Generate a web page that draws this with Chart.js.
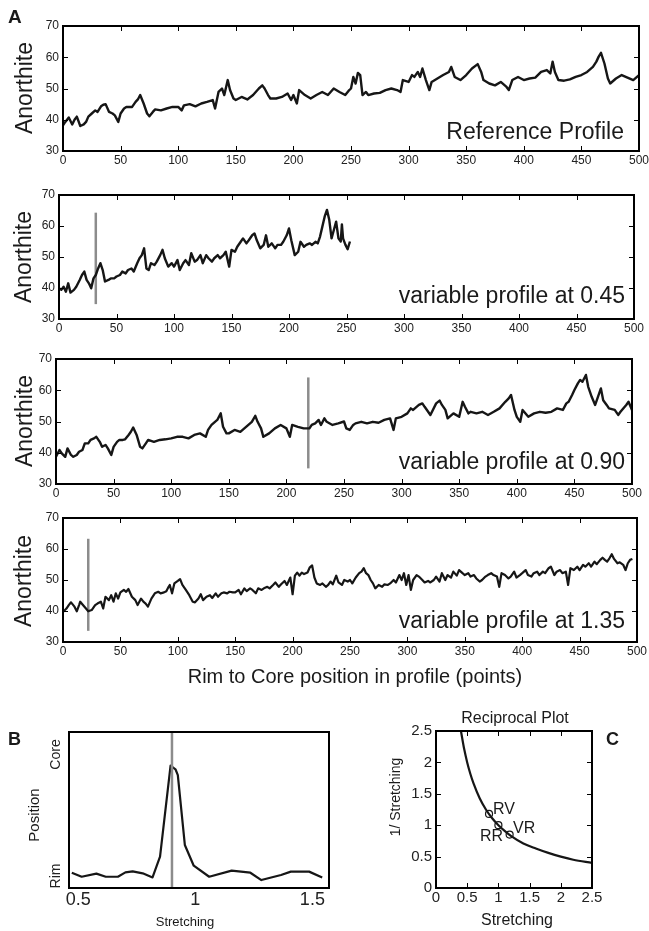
<!DOCTYPE html>
<html>
<head>
<meta charset="utf-8">
<script src="https://cdn.jsdelivr.net/npm/chart.js@4.4.1/dist/chart.umd.min.js"></script>
<style>
body { margin: 0; background: #fff; }
#fig { position: relative; width: 649px; height: 931px; overflow: hidden;
       font-family: "Liberation Sans", Arial, sans-serif; color: #1a1a1a; }
#fig canvas { position: absolute; }
.t { position: absolute; white-space: nowrap; line-height: 1; }
.c { transform: translateX(-50%); }
.rot { transform: translate(-50%, -50%) rotate(-90deg); }
.b { font-weight: bold; }
</style>
</head>
<body>
<div id="fig">
<canvas id="a1"></canvas>
<canvas id="a2"></canvas>
<canvas id="a3"></canvas>
<canvas id="a4"></canvas>
<canvas id="pb"></canvas>
<canvas id="pc"></canvas>

<div class="t b" style="left:8px;top:7px;font-size:19px">A</div>
<div class="t b" style="left:8px;top:730px;font-size:18px">B</div>
<div class="t b" style="left:606px;top:730px;font-size:18px">C</div>

<div class="t rot" style="left:24px;top:88px;font-size:23px">Anorthite</div>
<div class="t rot" style="left:23px;top:257px;font-size:23px">Anorthite</div>
<div class="t rot" style="left:24px;top:421px;font-size:23px">Anorthite</div>
<div class="t rot" style="left:23px;top:581px;font-size:23px">Anorthite</div>

<div class="t" style="right:25px;top:120px;font-size:23px">Reference Profile</div>
<div class="t" style="right:24px;top:284px;font-size:23px">variable profile at 0.45</div>
<div class="t" style="right:24px;top:450px;font-size:23px">variable profile at 0.90</div>
<div class="t" style="right:24px;top:609px;font-size:23px">variable profile at 1.35</div>
<div class="t c" style="left:355px;top:666px;font-size:20px">Rim to Core position in profile (points)</div>

<div class="t rot" style="left:33px;top:815px;font-size:15px">Position</div>
<div class="t c" style="left:185px;top:915px;font-size:13px">Stretching</div>

<div class="t c" style="left:515px;top:710px;font-size:16px">Reciprocal Plot</div>
<div class="t rot" style="left:395px;top:797px;font-size:14px">1/ Stretching</div>
<div class="t c" style="left:517px;top:912px;font-size:16px">Stretching</div>
<div class="t" style="left:493px;top:801px;font-size:16px">RV</div>
<div class="t" style="left:480px;top:828px;font-size:16px">RR</div>
<div class="t" style="left:513px;top:820px;font-size:16px">VR</div>
</div>

<script>
// ---- profile ticks
const aXTicks = [0, 50, 100, 150, 200, 250, 300, 350, 400, 450, 500];
const aYTicks = [30, 40, 50, 60, 70];

// reference profile
const refPos = [0,2,5,8,10,12,15,18,20,22,25,28,30,33,35,37,40,43,45,48,50,53,55,58,60,63,65,67,70,73,75,78,80,85,90,95,100,103,105,110,115,120,125,130,132,135,138,140,143,145,148,150,155,160,165,170,173,175,178,180,185,190,195,198,200,203,205,210,215,220,225,230,235,240,245,248,250,252,254,256,258,260,263,265,270,275,280,285,290,293,295,300,303,305,308,310,312,315,318,320,325,330,335,337,340,345,350,355,360,363,365,370,375,380,385,387,390,395,400,405,410,415,420,423,425,427,430,435,440,445,450,455,460,463,465,467,470,473,475,480,485,490,495,500];
const refAn = [38.2,39.3,40.7,38.5,40,41,38,38.5,39.3,41,42,43,42.5,44.3,44.8,45,42.5,42,41.4,39.3,42,43.6,44.1,44.1,44.1,45.7,46.5,47.9,45.2,42,41.1,42.5,43.3,43,43.6,44.1,44.1,43,44.6,45,44.3,45.2,45.7,46.3,43.6,48.9,50,47.9,52.7,49.5,46.8,46.3,47.3,46.5,47.9,50,51,50,47.9,46.8,46.8,47.3,48.4,46.3,47.9,45.2,49.5,47.9,46.8,47.9,48.9,47.9,50,48.9,47.9,49.3,50,53.7,51.6,55,54.3,47.9,48.9,47.9,48.4,48.6,49.5,50,49.5,48.9,52.7,52.1,54.3,53.7,55.3,53.7,56.4,52.7,49.5,52.1,53.2,54.3,55.3,56.9,53.7,52.7,54.3,56.4,57.8,55.3,52.7,51.6,51,52.1,50.5,49.5,52.7,53.7,52.7,53.2,53.5,55.3,55.9,54.8,58.6,55.3,52.7,52.5,52.9,53.7,54.3,55.3,56.9,58.6,60.2,61.4,58,53.2,51.6,53.2,54.3,53.5,52.7,54.3];

// variable profile at 0.45
const v45Pos = [0,2,4,6,8,10,13,15,18,20,22,24,26,28,30,32,34,36,38,40,43,45,48,50,53,55,58,60,63,65,68,70,72,74,76,78,80,83,85,88,90,92,95,98,100,103,105,108,110,113,115,118,120,123,125,128,130,133,135,138,140,143,145,148,150,153,155,158,160,163,165,168,170,172,175,178,180,182,185,188,190,193,195,198,200,202,205,208,210,213,215,218,220,223,225,227,229,231,233,235,237,239,241,243,245,246,247,249,251,253];
const v45An = [39.9,39.4,40.4,38.8,41.5,38.5,39.4,40.4,42.6,44.2,45.3,42.6,41.5,39.9,43.1,44.2,46.3,48,45.8,42.1,42.6,43.1,43.1,43.7,44.2,45.3,44.7,45.8,46.3,45.3,48,49.6,50.6,52.8,46.3,45.8,48,47.4,48.5,50.6,52.3,49.6,46.9,48,46.9,49,45.8,48,49,47.4,51.2,48.5,49,50.6,48,50.6,49.6,48.5,49.6,50.6,49.6,50.6,51.7,46.9,52.3,51.7,53.3,54.9,56,54.4,55.4,57,57.6,55.4,52.8,53.9,57,53.3,54.4,52.8,53.9,53.9,54.9,57,59.2,55.4,50.6,51.7,54.9,53.3,53.9,54.4,53.9,54.9,54.4,56.6,59.8,63,65.2,62,56,58.7,61.4,56,55,60.5,56,54,52.5,55];

// variable profile at 0.90
const v90Pos = [0,3,5,8,10,13,15,18,20,23,25,28,30,33,35,38,40,43,45,48,50,53,55,58,60,63,65,67,70,73,75,78,80,85,90,95,100,105,110,115,120,125,130,132,135,138,140,143,145,148,150,155,160,165,170,173,175,178,180,185,190,195,200,203,205,210,215,218,220,222,225,228,230,233,235,240,245,250,252,255,258,260,265,270,275,280,285,290,293,295,300,305,308,310,315,318,320,325,330,333,335,338,340,345,350,353,355,358,360,365,370,375,380,385,390,393,395,398,400,403,405,410,415,420,425,430,435,440,443,445,448,450,453,455,457,460,462,465,468,470,473,475,478,480,485,488,490,495,497,500];
const v90An = [38.7,40.9,39.8,38.7,41.4,39.3,38.7,39.3,40.3,40.9,43,43,44.1,44.6,45.1,43.5,41.9,42.5,41.4,39.3,41.9,43.5,44.1,44.1,44.3,45.7,46.7,48.1,45.7,41.9,41.4,43,44.1,43.5,44.1,44.3,44.6,45.1,45.1,44.6,45.7,46.2,45.1,47.3,48.9,49.9,50.5,52.6,48.3,46.2,46.2,47.3,46.7,48.3,49.9,51.8,49.9,47.8,45.1,46.2,47.8,48.9,47.8,45.1,48.9,48.3,47.8,47.8,47.8,48.9,49.4,50.5,48.9,51,49.9,48.9,49.4,50,47.8,47.3,48.9,49.4,49.9,49.4,49.9,49.6,50.5,51,47.3,51,51.5,52.6,54.2,53.7,55.3,55.8,54.7,52.1,55.8,56.7,55.3,53.7,51,52.6,51.5,56.3,54.7,52.6,53.1,52.6,53.1,52.1,53.1,54.2,56.3,57.4,58.5,53.7,51.5,49.9,53.7,51.5,52.6,53.1,52.8,53.1,54.2,53.7,55.8,56.3,58.5,60.1,62.2,63.3,62.7,64.9,61.1,57.9,55.3,57.4,60.6,56.8,55.3,54.2,53.7,52.1,53.1,55.3,56.3,53.7];

// variable profile at 1.35
const v135Pos = [0,3,5,7,10,12,14,15,17,20,22,25,28,30,33,35,37,40,42,44,46,48,50,53,55,57,60,63,65,68,70,72,74,77,80,83,85,88,90,92,93,95,97,100,102,104,107,110,113,115,118,120,122,125,128,130,133,135,138,140,143,145,148,150,153,155,158,160,163,165,168,170,173,175,178,180,183,185,188,190,193,195,198,200,202,204,206,208,210,213,215,217,219,221,224,226,229,231,233,235,238,240,243,245,248,250,252,255,258,260,262,264,266,268,270,272,275,278,280,283,285,288,290,293,295,297,299,301,303,305,308,310,313,315,318,320,323,325,328,330,333,335,338,340,343,345,348,350,353,355,358,360,363,365,368,370,373,375,378,380,382,385,388,390,393,395,398,400,403,405,408,410,413,415,418,420,423,425,428,430,433,435,438,440,442,445,448,450,453,455,458,460,463,465,468,470,472,474,476,478,480,483,485,488,490,492,494,496];
const v135An = [39.7,40.8,41.9,42.8,41.4,39.9,41.9,43,42.1,40.8,39.9,40.3,41.9,42.4,43,40.8,44.6,43.5,45.1,43,45.7,44,46,46.8,46.2,47.1,44.6,43.5,41.9,44,43,42.4,41.4,44,45.7,46.2,45.7,46,46.4,47.8,48.4,45.7,48.9,49.7,50.3,48.4,46.8,45.1,43,42.8,44,45.4,43.5,44.6,45.1,44.2,45.7,44.6,45.7,46,45.7,46.2,46,46,46.8,45.4,47.3,46.4,47.3,46.8,45.7,47.3,46.8,47.3,47.8,47.3,48.4,49.2,47.8,48.6,49.7,48.4,50.8,45.4,51.4,52.4,51.4,52.4,51.9,52.4,54.1,54.7,50.8,48.9,48.4,48.9,47.8,48.4,49.5,48.6,51.4,49.2,48.4,50,49.5,50,48.9,50.8,52.2,52.7,53.8,52.2,51.6,50,48.9,47.3,48.4,47.8,48.6,48.4,48.9,50,49.2,51.6,50,52.2,48.4,51.6,46.8,50,51.6,51.1,50,49.2,49.7,49.2,50,51.1,49.5,52.2,50,51.6,50.8,52.7,51.4,53.2,52.2,51.6,52.2,51.1,51.6,50.5,49.5,50,51.1,51.6,52.2,51.6,51.1,47.8,52.2,51.6,50.5,51.1,52.7,50.8,51.6,52.2,53.2,51.6,51.1,52.2,52.7,51.6,52.7,52.2,53.8,54.3,51.6,52.7,53.2,52.2,52.7,48.4,53.8,53.2,54.3,53.2,54.9,54.3,55.4,54.3,55.9,55.1,56.5,57.2,56.5,55.9,57,58.3,56.8,55.4,55.7,54.9,53.2,55.4,56.5,56.8];

// grey marker lines: position in profile, low end, high end
const markPos = [32, 219, 22];
const markLow = [34.8, 35, 33.6];
const markHigh = [64.3, 64.1, 63.3];

// ---- panel B
const bXTicks = [0.5, 1, 1.5];
const bYTickPos = [0.077, 0.856];
const bYTickLabels = ["Rim", "Core"];
const bStretch = [0.472,0.514,0.577,0.617,0.669,0.701,0.732,0.775,0.817,0.849,0.894,0.915,0.925,0.955,0.993,1.059,1.155,1.235,1.282,1.366,1.408,1.486,1.542];
const bPosition = [0.098,0.072,0.092,0.072,0.072,0.100,0.107,0.094,0.068,0.201,0.784,0.761,0.724,0.276,0.143,0.072,0.111,0.098,0.051,0.083,0.105,0.105,0.068];
const bBest = 0.9;

// ---- panel C
const cTicks = [0, 0.5, 1, 1.5, 2, 2.5];
const cStretch = [0.4,0.45,0.5,0.55,0.6,0.7,0.8,0.9,1,1.1,1.2,1.4,1.6,1.8,2,2.2,2.5];
const cRecip = [2.5,2.22,2,1.82,1.67,1.43,1.25,1.11,1,0.91,0.83,0.71,0.63,0.56,0.5,0.45,0.4];
const cPointX = [0.85, 1, 1.18];
const cPointY = [1.18, 1, 0.85];

const INK = "#161616";
const GREY = "#8c8c8c";

Chart.defaults.font.family = "'Liberation Sans', Arial, sans-serif";
Chart.defaults.color = "#222";

// frame box + inward tick marks, like the matlab axes
const frame = {
    id: "frame",
    afterDatasetsDraw(chart, args, opts) {
        const { ctx, chartArea: a } = chart;
        const x = chart.scales.x, y = chart.scales.y;
        ctx.save();
        ctx.strokeStyle = "#000";
        if (opts.ticks) {
            ctx.lineWidth = 1;
            ctx.beginPath();
            x.ticks.forEach(t => {
                const p = Math.round(x.getPixelForValue(t.value)) + 0.5;
                ctx.moveTo(p, a.bottom); ctx.lineTo(p, a.bottom - 5);
                ctx.moveTo(p, a.top); ctx.lineTo(p, a.top + 5);
            });
            y.ticks.forEach(t => {
                const p = Math.round(y.getPixelForValue(t.value)) + 0.5;
                ctx.moveTo(a.left, p); ctx.lineTo(a.left + 5, p);
                ctx.moveTo(a.right, p); ctx.lineTo(a.right - 5, p);
            });
            ctx.stroke();
        }
        ctx.lineWidth = 2;
        ctx.strokeRect(a.left, a.top, a.right - a.left, a.bottom - a.top);
        ctx.restore();
    }
};
Chart.register(frame);

function pts(xs, ys) {
    return xs.map((v, i) => ({ x: v, y: ys[i] }));
}

function lineSet(data, color, width) {
    return {
        data: data, showLine: true, pointRadius: 0,
        borderColor: color, borderWidth: width,
        borderJoinStyle: "round", fill: false
    };
}

// box = plot area in page px, cv = canvas rect
function panel(id, box, cv, datasets, xs, ys, tickMarks) {
    const el = document.getElementById(id);
    el.width = cv.r - cv.l;
    el.height = cv.b - cv.t;
    el.style.left = cv.l + "px";
    el.style.top = cv.t + "px";

    const yAxis = Object.assign({
        type: "linear",
        grid: { display: false, drawTicks: false },
        border: { display: false },
        afterBuildTicks: s => { s.ticks = ys.ticks.map(v => ({ value: v })); },
        afterFit: s => { s.width = box.l - cv.l; s.paddingTop = 0; s.paddingBottom = 0; }
    }, ys.opts);
    const xAxis = Object.assign({
        type: "linear",
        grid: { display: false, drawTicks: false },
        border: { display: false },
        afterBuildTicks: s => { s.ticks = xs.ticks.map(v => ({ value: v })); },
        afterFit: s => { s.height = cv.b - box.b; s.paddingLeft = 0; s.paddingRight = 0; }
    }, xs.opts);

    return new Chart(el, {
        type: "scatter",
        data: { datasets: datasets },
        options: {
            responsive: false,
            animation: false,
            layout: { padding: { left: 0, top: box.t - cv.t, right: cv.r - box.r, bottom: 0 } },
            plugins: { legend: { display: false }, tooltip: { enabled: false }, frame: { ticks: tickMarks } },
            scales: { x: xAxis, y: yAxis }
        }
    });
}

const aX = {
    ticks: aXTicks,
    opts: { min: 0, max: 500, ticks: { font: { size: 12 }, padding: 2, maxRotation: 0, autoSkip: false, callback: v => String(v) } }
};
const aY = {
    ticks: aYTicks,
    opts: { min: 30, max: 70, ticks: { font: { size: 12 }, padding: 4, autoSkip: false, callback: v => String(v) } }
};

function marker(i) {
    return lineSet(pts([markPos[i], markPos[i]], [markLow[i], markHigh[i]]), GREY, 2.5);
}

panel("a1", { l: 63, t: 26, r: 639, b: 151 }, { l: 0, t: 0, r: 649, b: 180 },
    [lineSet(pts(refPos, refAn), INK, 2.4)], aX, aY, true);

panel("a2", { l: 59, t: 195, r: 634, b: 319 }, { l: 0, t: 180, r: 649, b: 340 },
    [lineSet(pts(v45Pos, v45An), INK, 2.4), marker(0)], aX, aY, true);

panel("a3", { l: 56, t: 359, r: 632, b: 484 }, { l: 0, t: 340, r: 649, b: 505 },
    [lineSet(pts(v90Pos, v90An), INK, 2.4), marker(1)], aX, aY, true);

panel("a4", { l: 63, t: 518, r: 637, b: 642 }, { l: 0, t: 505, r: 649, b: 700 },
    [lineSet(pts(v135Pos, v135An), INK, 2.2), marker(2)], aX, aY, true);

// B: position of best fit versus stretching
panel("pb", { l: 69, t: 732, r: 329, b: 888 }, { l: 0, t: 700, r: 360, b: 931 },
    [lineSet(pts([bBest, bBest], [0, 1]), GREY, 2.5),
     lineSet(pts(bStretch, bPosition), INK, 2.2)],
    { ticks: bXTicks,
      opts: { min: 0.46, max: 1.571, ticks: { font: { size: 18 }, padding: 1, maxRotation: 0, autoSkip: false, callback: v => String(v) } } },
    { ticks: bYTickPos,
      opts: { min: 0, max: 1, ticks: { font: { size: 14 }, padding: -2, crossAlign: "center", minRotation: 90, maxRotation: 90, autoSkip: false,
              callback: (v, i) => bYTickLabels[i] } } },
    false);

// C: reciprocal plot
const cc = panel("pc", { l: 436, t: 731, r: 592, b: 888 }, { l: 360, t: 700, r: 649, b: 931 },
    [lineSet(pts(cStretch, cRecip), INK, 2.2),
     { data: pts(cPointX, cPointY), showLine: false, pointRadius: 3.5,
       pointBackgroundColor: "#fff", pointBorderColor: INK, pointBorderWidth: 1.2 }],
    { ticks: cTicks,
      opts: { min: 0, max: 2.5, ticks: { font: { size: 15 }, padding: 1, maxRotation: 0, autoSkip: false, callback: v => String(v) } } },
    { ticks: cTicks,
      opts: { min: 0, max: 2.5, ticks: { font: { size: 15 }, padding: 4, autoSkip: false, callback: v => String(v) } } },
    true);
cc.data.datasets[0].cubicInterpolationMode = "monotone";
cc.update();
</script>
</body>
</html>
